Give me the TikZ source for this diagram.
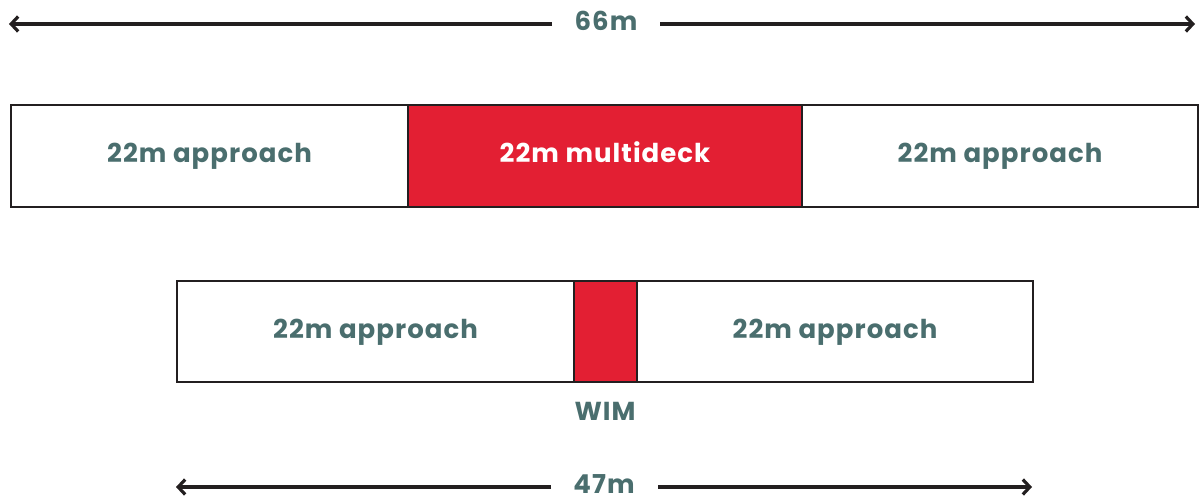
\documentclass[tikz,border=0pt]{standalone}
\usepackage{fontspec}
\setmainfont{Poppins}[LetterSpace=4]
\usetikzlibrary{arrows.meta}
\definecolor{labelgray}{HTML}{4A6E6E}
\definecolor{deckred}{HTML}{E31F33}
\definecolor{ink}{HTML}{231F20}
\tikzset{
  x=1pt, y=-1pt,
  span/.style={draw=ink, line width=2pt, fill=white, inner sep=0pt, anchor=north west},
  redspan/.style={span, fill=deckred},
  lbl/.style={font=\fontsize{26}{30}\selectfont\bfseries, text=labelgray, anchor=base, inner sep=0pt},
  whitelbl/.style={lbl, text=white},
  dimline/.style={draw=ink, line width=3.2pt, -{Straight Barb[length=7pt,width=15pt,line width=3.2pt]}},
}
\begin{document}
\begin{tikzpicture}
\useasboundingbox (0,0) rectangle (1200,500);

% overall length of the multideck site
\node[lbl] (top) at (606,31) {66m};
\coordinate (tl) at (9,24);
\coordinate (tr) at (1195,24);
\coordinate (tlg) at (552,24);
\coordinate (trg) at (660,24);
\draw[dimline] (tlg) -- (tl);
\draw[dimline] (trg) -- (tr);

% multideck layout
\node[span, minimum width=397pt, minimum height=102pt] (a1) at (10,104) {};
\node[redspan, minimum width=394pt, minimum height=102pt] (md) at (407,104) {};
\node[span, minimum width=396pt, minimum height=102pt] (a2) at (801,104) {};
\node[lbl] at ([yshift=-7pt]a1.center) {22m approach};
\node[whitelbl] at ([yshift=-7pt]md.center) {22m multideck};
\node[lbl] at ([yshift=-7pt]a2.center) {22m approach};

% WIM layout
\node[span, minimum width=397pt, minimum height=101pt] (b1) at (176,280) {};
\node[redspan, minimum width=63pt, minimum height=101pt] (wim) at (573,280) {};
\node[span, minimum width=396pt, minimum height=101pt] (b2) at (636,280) {};
\node[lbl] at ([yshift=-7pt]b1.center) {22m approach};
\node[lbl] at ([yshift=-7pt]b2.center) {22m approach};
\node[lbl] (wimlbl) at (605,420) {WIM};

% overall length of the WIM site
\node[lbl] (bot) at (604,493) {47m};
\coordinate (bl) at (176,487);
\coordinate (br) at (1032,487);
\coordinate (blg) at (551,487);
\coordinate (brg) at (658,487);
\draw[dimline] (blg) -- (bl);
\draw[dimline] (brg) -- (br);
\end{tikzpicture}
\end{document}
